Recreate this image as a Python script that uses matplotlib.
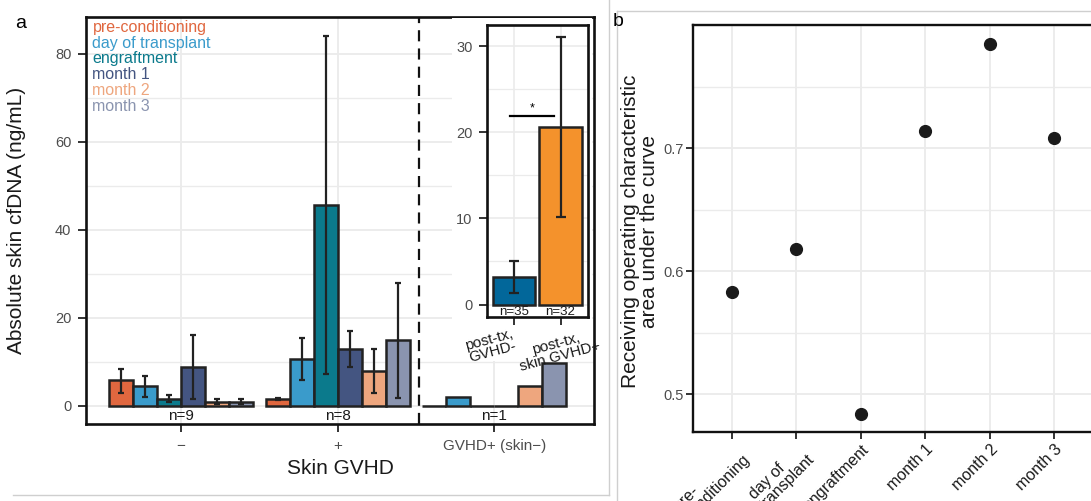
import matplotlib
matplotlib.use("Agg")
import matplotlib.pyplot as plt
from matplotlib.ticker import MultipleLocator
from matplotlib.patches import Rectangle
from matplotlib.lines import Line2D
import numpy as np

plt.rcParams['font.family'] = ['Liberation Sans', 'DejaVu Sans']

# ---- data ----
groups = ['\u2212', '+', 'GVHD+ (skin\u2212)']
group_n = ['n=9', 'n=8', 'n=1']
timepoints = ['pre-conditioning', 'day of transplant', 'engraftment',
              'month 1', 'month 2', 'month 3']
tp_colors = ['#E0673F', '#3A9BCB', '#0B7A8C', '#445581', '#EEA67E', '#8A94AF']

# mean per timepoint, one list per skin GVHD group
mean_neg = [5.75, 4.5, 1.5, 8.8, 0.8, 0.9]
mean_pos = [1.5, 10.6, 45.7, 12.9, 8.0, 15.0]
mean_skinneg = [0, 1.9, 0, 0, 4.5, 9.8]
lo_neg = [2.9, 2.0, 0.75, 1.5, 0.3, 0.4]
hi_neg = [8.4, 6.7, 2.5, 16.1, 1.6, 1.5]
lo_pos = [1.2, 5.8, 7.3, 8.7, 3.0, 1.7]
hi_pos = [1.8, 15.4, 84.1, 16.9, 13.0, 28.0]

inset_labels = ['post-tx,\nGVHD-', 'post-tx,\nskin GVHD+']
inset_n = ['n=35', 'n=32']
inset_mean = [3.2, 20.6]
inset_lo = [1.3, 10.2]
inset_hi = [5.0, 31.0]
inset_colors = ['#02679A', '#F4922C']

auc_labels = ['pre-\nconditioning', 'day of\ntransplant', 'engraftment',
              'month 1', 'month 2', 'month 3']
auc = [0.583, 0.618, 0.484, 0.714, 0.785, 0.708]

# ---- layout helpers (pixel -> figure fraction) ----
W, H = 1091, 501
def box(l, r, t, b):
    return [l / W, 1 - b / H, (r - l) / W, (b - t) / H]
def fx(px):
    return px / W
def fy(py):
    return 1 - py / H

GRID = '#EBEBEB'
EDGE = '#222222'
TICKC = '#4D4D4D'

fig = plt.figure(figsize=(W / 100, H / 100), dpi=100)

# ---- panel a: main bars ----
ax = fig.add_axes(box(86, 594, 17, 424))
ax.set_axisbelow(True)
w = 0.153
means = [mean_neg, mean_pos, mean_skinneg]
for g in range(3):
    for i in range(6):
        xpos = g + 1 + (i - 2.5) * w
        ax.bar(xpos, means[g][i], width=w, color=tp_colors[i],
               edgecolor=EDGE, linewidth=1.8, zorder=2)
for g, (m, lo, hi) in enumerate([(mean_neg, lo_neg, hi_neg), (mean_pos, lo_pos, hi_pos)]):
    xs = g + 1 + (np.arange(6) - 2.5) * w
    m = np.array(m)
    ax.errorbar(xs, m, yerr=[m - np.array(lo), np.array(hi) - m], fmt='none',
                ecolor=EDGE, elinewidth=1.6, capsize=2.3, capthick=1.6, zorder=3)
for g in range(3):
    ax.text(g + 1, -2.3, group_n[g], ha='center', va='center', fontsize=11, color='#1a1a1a')
ax.axvline(2.52, color='#111111', lw=1.6, dashes=(5, 3.2), zorder=4)

ax.set_xlim(0.394, 3.636)
ax.set_ylim(-4.16, 88.4)
ax.set_xticks([1, 2, 3])
ax.set_xticklabels(groups, fontsize=11, color=TICKC)
ax.set_yticks([0, 20, 40, 60, 80])
ax.set_yticklabels(['0', '20', '40', '60', '80'], fontsize=10.5, color=TICKC)
ax.yaxis.set_minor_locator(MultipleLocator(10))
ax.tick_params(which='major', length=6, width=1.4, color='#333333', pad=4.5)
ax.tick_params(which='minor', length=0)
ax.grid(which='major', color=GRID, lw=1.3)
ax.grid(which='minor', axis='y', color=GRID, lw=1.0)
for s in ax.spines.values():
    s.set_linewidth(1.9)
    s.set_color('#111111')

fig.text(fx(340), fy(468), 'Skin GVHD', ha='center', va='center', fontsize=15, color='#1a1a1a')
fig.text(fx(17), fy(220), 'Absolute skin cfDNA (ng/mL)', ha='center', va='center',
         rotation=90, fontsize=15, color='#1a1a1a')

# legend as coloured text
leg_y = [27.5, 43.3, 58.8, 74.8, 90.8, 106.3]
for lab, col, yy in zip(timepoints, tp_colors, leg_y):
    fig.text(fx(92.5), fy(yy), lab, ha='left', va='center', fontsize=11.5, color=col)

# white area behind inset
fig.patches.append(Rectangle((fx(452), fy(361)), fx(592) - fx(452), fy(18.5) - fy(361),
                             transform=fig.transFigure, facecolor='white',
                             edgecolor='none', zorder=0.5))

# ---- inset ----
axi = fig.add_axes(box(487, 588, 25, 317), zorder=1)
axi.set_axisbelow(True)
axi.bar([1, 2], inset_mean, width=0.91, color=inset_colors, edgecolor=EDGE, linewidth=1.8, zorder=2)
im = np.array(inset_mean)
axi.errorbar([1, 2], im, yerr=[im - np.array(inset_lo), np.array(inset_hi) - im], fmt='none',
             ecolor=EDGE, elinewidth=1.6, capsize=3.6, capthick=1.6, zorder=3)
for i in range(2):
    axi.text(i + 1, -0.86, inset_n[i], ha='center', va='center', fontsize=9.5, color='#1a1a1a')
axi.plot([0.92, 1.85], [21.9, 21.9], color='black', lw=1.6, zorder=3)
axi.text(1.38, 22.1, '*', ha='center', va='bottom', fontsize=9)
axi.set_xlim(0.42, 2.59)
axi.set_ylim(-1.44, 32.44)
axi.set_xticks([1, 2])
axi.set_xticklabels([])
axi.set_yticks([0, 10, 20, 30])
axi.set_yticklabels(['0', '10', '20', '30'], fontsize=10.5, color=TICKC)
axi.yaxis.set_minor_locator(MultipleLocator(5))
axi.tick_params(which='major', length=5.5, width=1.4, color='#333333', pad=5)
axi.tick_params(which='minor', length=0)
axi.grid(which='major', color=GRID, lw=1.2)
axi.grid(which='minor', axis='y', color=GRID, lw=0.9)
for s in axi.spines.values():
    s.set_linewidth(1.9)
    s.set_color('#111111')
fig.text(fx(491), fy(346), inset_labels[0], ha='center', va='center', rotation=15,
         fontsize=10.8, color='#1a1a1a', linespacing=0.9)
fig.text(fx(558), fy(350), inset_labels[1], ha='center', va='center', rotation=15,
         fontsize=10.8, color='#1a1a1a', linespacing=0.9)

# ---- panel b ----
axb = fig.add_axes(box(693, 1093, 25, 432))
axb.set_axisbelow(True)
xb = np.arange(1, len(auc) + 1)
axb.scatter(xb, auc, s=72, color='#1a1a1a', zorder=3)
axb.set_xlim(0.4, 6.6)
axb.set_ylim(0.4693, 0.8003)
axb.set_xticks(xb)
axb.set_xticklabels(auc_labels, rotation=45, ha='right', va='top', rotation_mode='anchor',
                    fontsize=11.5, color='#1a1a1a', multialignment='left', linespacing=0.95)
axb.set_yticks([0.5, 0.6, 0.7])
axb.set_yticklabels(['0.5', '0.6', '0.7'], fontsize=10.5, color=TICKC)
axb.yaxis.set_minor_locator(MultipleLocator(0.05))
axb.tick_params(which='major', length=5, width=1.4, color='#333333', pad=2)
axb.tick_params(which='minor', length=0)
axb.grid(which='major', color=GRID, lw=1.3)
axb.grid(which='minor', axis='y', color=GRID, lw=1.0)
for s in axb.spines.values():
    s.set_linewidth(1.7)
    s.set_color('#111111')
fig.text(fx(640), fy(231), 'Receiving operating characteristic\narea under the curve',
         ha='center', va='center', rotation=90, fontsize=15, color='#1a1a1a', linespacing=1.05)

# panel labels and panel frames
fig.text(fx(21), fy(23), 'a', ha='center', va='center', fontsize=14)
fig.text(fx(618), fy(22), 'b', ha='center', va='center', fontsize=14)
frame = '#CFCFCF'
fig.add_artist(Line2D([fx(13), fx(609)], [fy(495), fy(495)], color=frame, lw=1, transform=fig.transFigure))
fig.add_artist(Line2D([fx(609), fx(609)], [fy(0), fy(495)], color=frame, lw=1, transform=fig.transFigure))
fig.add_artist(Line2D([fx(617), fx(617)], [fy(11), fy(501)], color=frame, lw=1, transform=fig.transFigure))
fig.add_artist(Line2D([fx(617), fx(1091)], [fy(11), fy(11)], color=frame, lw=1, transform=fig.transFigure))

fig.savefig('out.png', dpi=100)
